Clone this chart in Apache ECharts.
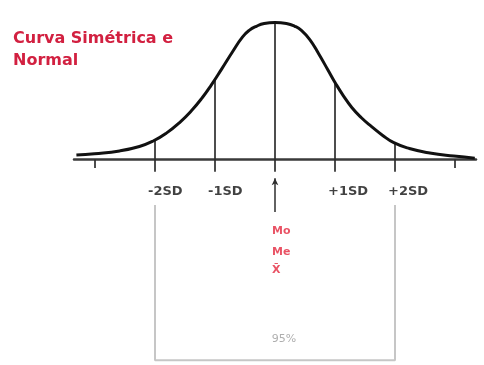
<!DOCTYPE html>
<html>
<head>
<meta charset="utf-8">
<script src="https://cdn.jsdelivr.net/npm/echarts@6/dist/echarts.min.js"></script>
<style>
html,body{margin:0;padding:0;background:#fff;}
#chart{width:484px;height:365px;}
</style>
</head>
<body>
<div id="chart"></div>
<script>
// ---- data (x in SD units, y as density height) ----
const curveX = [-3.31, -3.01, -2.59, -2.26, -2.03, -1.81, -1.59, -1.39, -1.21, -1.06, -0.89, -0.71, -0.54, -0.43, -0.31, -0.18, 0, 0.19, 0.33, 0.44, 0.58, 0.73, 0.88, 1.01, 1.14, 1.28, 1.44, 1.61, 1.79, 1.98, 2.24, 2.58, 2.98, 3.33];
const curveY = [0.013, 0.017, 0.025, 0.038, 0.054, 0.077, 0.108, 0.143, 0.181, 0.218, 0.264, 0.314, 0.358, 0.377, 0.389, 0.397, 0.400, 0.397, 0.389, 0.377, 0.350, 0.308, 0.262, 0.222, 0.186, 0.152, 0.122, 0.096, 0.071, 0.049, 0.032, 0.019, 0.010, 0.004];

const sdMarks = [-2, -1, 0, 1, 2];
const sdLabels = ['-2SD', '-1SD', '', '+1SD', '+2SD'];
const curveAtMarks = [0.056, 0.234, 0.400, 0.225, 0.048];
const outerTicks = [-3, 3];

const centerLabels = ['Mo', 'Me', 'X\u0304'];
const bracketRange = [-2, 2];
const bracketLabel = '95%';
const titleLines = ['Curva Simétrica e', 'Normal'];

// ---- layout constants (not data) ----
const markBottom = -0.036;   // SD lines extend below baseline
const tickBottom = -0.025;
const labelY = -0.095;
const arrowTop = -0.055, arrowBottom = -0.153;
const centerLabelY = [-0.209, -0.270, -0.323];
const bracketTop = -0.133, bracketBottom = -0.586;
const bracketLabelY = -0.524;

const curveData = curveX.map((x, i) => [x, curveY[i]]);

const vLines = [];
sdMarks.forEach((x, i) => vLines.push([x, markBottom, curveAtMarks[i], 1.7]));
outerTicks.forEach(x => vLines.push([x, tickBottom, 0, 1.7]));

const chart = echarts.init(document.getElementById('chart'), null, {renderer: 'canvas'});
chart.setOption({
  backgroundColor: '#ffffff',
  animation: false,
  title: {
    text: titleLines.join('\n'),
    left: 8,
    top: 23,
    textStyle: {
      color: '#d22040',
      fontFamily: 'DejaVu Sans',
      fontWeight: 'bold',
      fontSize: 16,
      lineHeight: 22
    }
  },
  grid: {left: 74, right: 8, top: 22.5, bottom: 0, containLabel: false},
  xAxis: {
    type: 'value', min: -3.35, max: 3.35,
    axisLine: {show: true, onZero: true, lineStyle: {color: '#3a3a3a', width: 2.5}},
    axisTick: {show: false}, axisLabel: {show: false}, splitLine: {show: false}
  },
  yAxis: {
    type: 'value', min: -0.6, max: 0.4,
    show: false, splitLine: {show: false}
  },
  series: [
    {
      type: 'custom',
      silent: true,
      renderItem: function (params, api) {
        const x = api.value(0);
        const p0 = api.coord([x, api.value(1)]);
        const p1 = api.coord([x, api.value(2)]);
        return {
          type: 'line',
          shape: {x1: p0[0], y1: p0[1], x2: p1[0], y2: p1[1]},
          style: {stroke: '#2e2e2e', lineWidth: api.value(3)}
        };
      },
      data: vLines,
      z: 2
    },
    {
      type: 'line',
      data: curveData,
      smooth: 0.5,
      showSymbol: false,
      lineStyle: {color: '#111', width: 3},
      z: 3,
      silent: true
    },
    {
      type: 'line',
      data: [[bracketRange[0], bracketTop], [bracketRange[0], bracketBottom], [bracketRange[1], bracketBottom], [bracketRange[1], bracketTop]],
      showSymbol: false,
      lineStyle: {color: '#c6c6c6', width: 2},
      silent: true,
      z: 1
    },
    {
      type: 'scatter',
      symbolSize: 0,
      silent: true,
      data: sdMarks.map((x, i) => ({value: [x, labelY], name: sdLabels[i]})),
      label: {
        show: true, position: 'inside', align: 'left', offset: [-7, 0],
        formatter: p => p.name,
        color: '#111', fontFamily: 'DejaVu Sans', fontWeight: 'bold', fontSize: 13
      },
      markLine: {
        silent: true,
        symbol: ['none', 'arrow'],
        symbolSize: [5, 7],
        lineStyle: {color: '#2e2e2e', width: 1.5, type: 'solid'},
        label: {show: false},
        data: [[{coord: [0, arrowBottom]}, {coord: [0, arrowTop]}]]
      }
    },
    {
      type: 'scatter',
      symbolSize: 0,
      silent: true,
      data: centerLabels.map((t, i) => ({value: [0, centerLabelY[i]], name: t})),
      label: {
        show: true, position: 'inside', align: 'left', offset: [-3, 0],
        formatter: p => p.name,
        color: '#e3283f', fontFamily: 'DejaVu Sans', fontWeight: 'bold', fontSize: 11
      }
    },
    {
      type: 'scatter',
      symbolSize: 0,
      silent: true,
      data: [{value: [0.15, bracketLabelY], name: bracketLabel}],
      label: {
        show: true, position: 'inside',
        formatter: p => p.name,
        color: '#9a9a9a', fontFamily: 'DejaVu Sans', fontSize: 11
      }
    }
  ]
});
</script>
</body>
</html>
